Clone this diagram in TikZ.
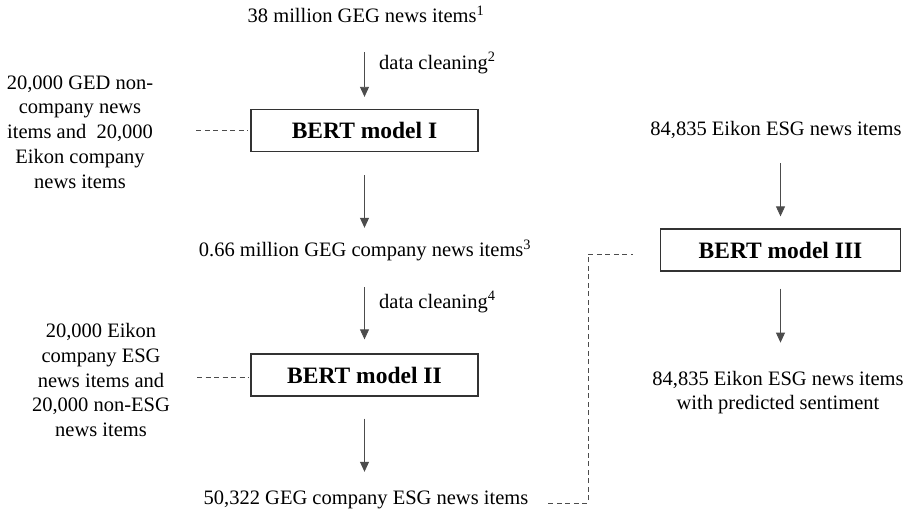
\documentclass[tikz,border=0pt]{standalone}
\usepackage{fontspec}
\setmainfont{Liberation Serif}
\usetikzlibrary{arrows.meta}
\begin{document}
\begin{tikzpicture}[x=1pt,y=-1pt,
  txt/.style={inner sep=0pt,font=\fontsize{20.5}{24.8}\selectfont,text height=14pt,text depth=4.5pt},
  mtxt/.style={inner sep=0pt,font=\fontsize{20.5}{24.8}\selectfont,align=center},
  small/.style={inner sep=0pt,font=\fontsize{20.5}{24}\selectfont,anchor=west},
  bert/.style={draw=black!80,line width=1.3pt,minimum height=42pt,inner sep=0pt,font=\fontsize{23.5}{28}\selectfont\bfseries},
  arr/.style={draw=black!70,line width=0.8pt,-{Triangle[width=9pt,length=10pt]}},
  dsh/.style={draw=black!70,line width=0.8pt,dash pattern=on 5pt off 3.5pt}]
\useasboundingbox (0,0) rectangle (913,512);
% left column
\node[bert,minimum width=227pt] (b1) at (364.5,130.5) {BERT model I};
\node[txt] (n1) at (366,18) {38 million GEG news items\textsuperscript{1}};
\node[txt] (n2) at (365,252) {0.66 million GEG company news items\textsuperscript{3}};
\node[bert,minimum width=227pt] (b2) at (364.5,375) {BERT model II};
\node[txt] (n3) at (366,500) {50,322 GEG company ESG news items};
\node[small] (c1) at (379,63) {data cleaning\textsuperscript{2}};
\node[small] (c2) at (379,302) {data cleaning\textsuperscript{4}};
\node[mtxt] (l1) at (80,132) {20,000 GED non-\\company news\\items and\ \ 20,000\\Eikon company\\news items};
\node[mtxt] (l2) at (101,380) {20,000 Eikon\\company ESG\\news items and\\20,000 non-ESG\\news items};
% right column
\node[txt] (r1) at (776,131) {84,835 Eikon ESG news items};
\node[bert,minimum width=240pt] (b3) at (780.5,250) {BERT model III};
\node[mtxt] (r2) at (778,392.5) {84,835 Eikon ESG news items\\with predicted sentiment};
% arrows
\draw[arr,shorten <=24.75pt,shorten >=12pt] (n1.south -| b1.north) -- (b1.north);
\draw[arr,shorten <=23pt,shorten >=14.75pt] (b1.south) -- (n2.north -| b1.south);
\draw[arr,shorten <=25.75pt,shorten >=14pt] (n2.south -| b2.north) -- (b2.north);
\draw[arr,shorten <=22pt,shorten >=18.75pt] (b2.south) -- (n3.north -| b2.south);
\draw[arr,shorten <=22.75pt,shorten >=12pt] (r1.south -| b3.north) -- (b3.north);
\draw[arr,shorten <=17pt,shorten >=28pt] (b3.south) -- (r2.north -| b3.south);
% dashed links
\draw[dsh,shorten <=43pt,shorten >=2pt] (b1.west -| l1.east) -- (b1.west);
\draw[dsh,shorten <=27pt,shorten >=2pt] ([yshift=-2pt]b2.west -| l2.east) -- ([yshift=-2pt]b2.west);
\coordinate (k1) at (588,503);
\coordinate (k2) at (588,254);
\coordinate (k3) at (633,254);
\draw[dsh] ([xshift=20pt]n3.east |- k1) -- (k1) -- (k2) -- (k3);
\end{tikzpicture}
\end{document}
